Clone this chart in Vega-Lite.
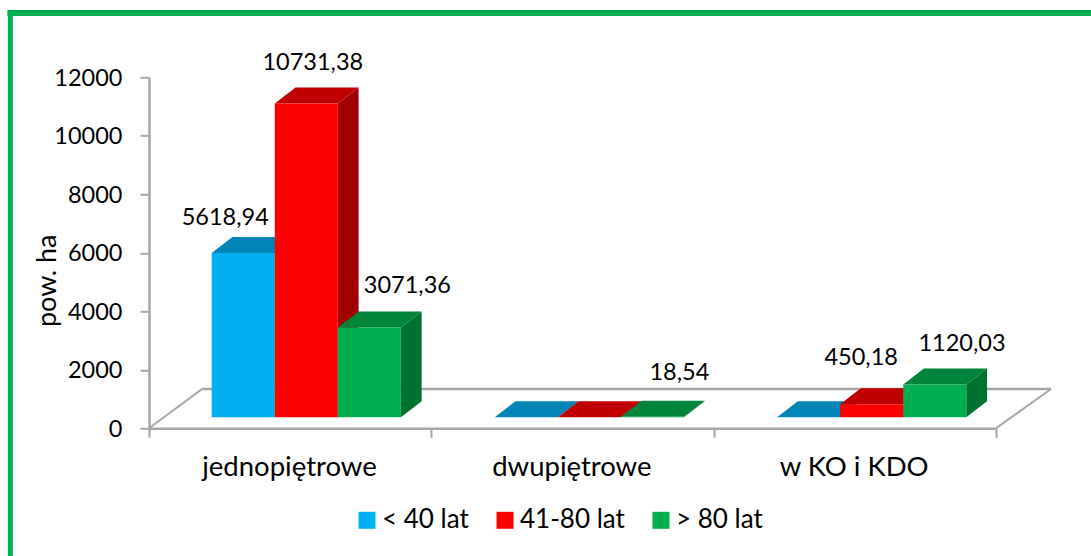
{
"$schema":"https://vega.github.io/schema/vega-lite/v6.json",
"width":847,"height":351,
"autosize":{"type":"none"},
"padding":{"left":149,"top":77.3,"right":95,"bottom":127.7},
"background":"white",
"config":{"view":{"stroke":null},"font":"Lato"},
"data":{"values":[
{"kategoria":"jednopiętrowe","grupa":"< 40 lat","wartosc":5618.94},
{"kategoria":"jednopiętrowe","grupa":"41-80 lat","wartosc":10731.38},
{"kategoria":"jednopiętrowe","grupa":"> 80 lat","wartosc":3071.36},
{"kategoria":"dwupiętrowe","grupa":"< 40 lat","wartosc":0},
{"kategoria":"dwupiętrowe","grupa":"41-80 lat","wartosc":0},
{"kategoria":"dwupiętrowe","grupa":"> 80 lat","wartosc":18.54},
{"kategoria":"w KO i KDO","grupa":"< 40 lat","wartosc":0},
{"kategoria":"w KO i KDO","grupa":"41-80 lat","wartosc":450.18},
{"kategoria":"w KO i KDO","grupa":"> 80 lat","wartosc":1120.03}
]},
"transform":[
{"calculate":"indexof(['jednopiętrowe','dwupiętrowe','w KO i KDO'],datum.kategoria)","as":"k"},
{"calculate":"indexof(['< 40 lat','41-80 lat','> 80 lat'],datum.grupa)","as":"g"},
{"calculate":"datum.k+(datum.k==0?0.222:0.2245)+datum.g*0.2234","as":"x0"},
{"calculate":"datum.x0+0.2234","as":"x1"},
{"calculate":"(datum.x0+datum.x1)/2","as":"xm"},
{"calculate":"376","as":"podstawa"},
{"calculate":"datum.wartosc+376","as":"szczyt"},
{"calculate":"replace(format(datum.wartosc,'.2f'),'.',',')","as":"etykieta"}
],
"resolve":{"scale":{"color":"independent"}},
"layer":[
{"data":{"values":[{}]},"transform":[],"mark":{"type":"rule","color":"#A6A6A6","strokeWidth":2.5},
 "encoding":{"x":{"datum":0.188,"type":"quantitative","scale":{"domain":[0,3],"nice":false}},"x2":{"datum":3.195},
 "y":{"datum":1344,"type":"quantitative","scale":{"domain":[0,12000],"nice":false}}}},
{"data":{"values":[{}]},"transform":[],"mark":{"type":"rule","color":"#A6A6A6","strokeWidth":2},
 "encoding":{"x":{"datum":0,"type":"quantitative","scale":{"domain":[0,3],"nice":false}},"x2":{"datum":0.188},
 "y":{"datum":0,"type":"quantitative","scale":{"domain":[0,12000],"nice":false}},"y2":{"datum":1344}}},
{"data":{"values":[{}]},"transform":[],"mark":{"type":"rule","color":"#A6A6A6","strokeWidth":2},
 "encoding":{"x":{"datum":3,"type":"quantitative","scale":{"domain":[0,3],"nice":false}},"x2":{"datum":3.195},
 "y":{"datum":0,"type":"quantitative","scale":{"domain":[0,12000],"nice":false}},"y2":{"datum":1344}}},
{"transform":[{"calculate":"[0,1]","as":"p"},{"flatten":["p"]},
  {"calculate":"datum.x1+datum.p*0.0735","as":"sx"},
  {"calculate":"datum.szczyt+datum.p*547","as":"sy"},
  {"calculate":"datum.podstawa+datum.p*547","as":"sy2"}],
 "mark":{"type":"area","orient":"vertical"},
 "encoding":{"x":{"field":"sx","type":"quantitative","scale":{"domain":[0,3],"nice":false}},
  "y":{"field":"sy","type":"quantitative","stack":null,"scale":{"domain":[0,12000],"nice":false}},
  "y2":{"field":"sy2"},
  "detail":{"field":"k"},
  "color":{"field":"grupa","type":"nominal","scale":{"domain":["< 40 lat","41-80 lat","> 80 lat"],"range":["#006F94","#A00000","#00722F"]},"legend":null}}},
{"transform":[{"calculate":"[0,1,2,3]","as":"p"},{"flatten":["p"]},
  {"calculate":"[datum.x0,datum.x0+0.0735,datum.x1,datum.x1+0.0735][datum.p]","as":"sx"},
  {"calculate":"datum.szczyt+(datum.p==0?0:547)","as":"sy"},
  {"calculate":"datum.szczyt+(datum.p==3?547:0)","as":"sy2"}],
 "mark":{"type":"area","orient":"vertical"},
 "encoding":{"x":{"field":"sx","type":"quantitative","scale":{"domain":[0,3],"nice":false}},
  "y":{"field":"sy","type":"quantitative","stack":null,"scale":{"domain":[0,12000],"nice":false}},
  "y2":{"field":"sy2"},
  "detail":{"field":"k"},
  "color":{"field":"grupa","type":"nominal","scale":{"domain":["< 40 lat","41-80 lat","> 80 lat"],"range":["#0086B6","#C00000","#00853B"]},"legend":null}}},
{"mark":{"type":"rect"},
 "encoding":{"x":{"field":"x0","type":"quantitative","scale":{"domain":[0,3],"nice":false},
   "axis":{"values":[0,1,2,3],"title":null,"grid":false,"labelOffset":140,"labelExpr":"datum.value==0?'jednopiętrowe':datum.value==1?'dwupiętrowe':datum.value==2?'w KO i KDO':''","labelFont":"Lato","labelFontSize":27.5,"labelColor":"#000000","labelPadding":16,"labelFlush":false,"labelOverlap":false,"labelAngle":0,"domainColor":"#A6A6A6","domainWidth":2.5,"tickColor":"#A6A6A6","tickWidth":2,"tickSize":9}},
  "x2":{"field":"x1"},
  "y":{"field":"szczyt","type":"quantitative","scale":{"domain":[0,12000],"nice":false},
   "axis":{"values":[0,2000,4000,6000,8000,10000,12000],"format":"d","title":"pow. ha","grid":false,"labelFont":"Lato","labelFontSize":23.5,"labelColor":"#000000","labelPadding":18,"labelOffset":1,"domainColor":"#A6A6A6","domainWidth":2.5,"tickColor":"#A6A6A6","tickWidth":2,"tickSize":9,"titleFont":"Lato","titleFontSize":27,"titleFontWeight":"normal","titleColor":"#000000","titleX":-102,"titleY":203,"titleAngle":270,"titleAlign":"center","titleBaseline":"middle"}},
  "y2":{"field":"podstawa"},
  "color":{"field":"grupa","type":"nominal","scale":{"domain":["< 40 lat","41-80 lat","> 80 lat"],"range":["#00B0F0","#FF0000","#00B050"]},
   "legend":{"orient":"none","legendX":205,"legendY":430,"direction":"horizontal","columns":3,"title":null,"symbolType":"square","symbolSize":289,"symbolStrokeWidth":0,"labelFont":"Lato","labelFontSize":26,"labelColor":"#000000","labelOffset":2,"columnPadding":23,"symbolOpacity":1}}}},
{"transform":[{"filter":"datum.wartosc==5618.94"}],"mark":{"type":"text","font":"Lato","fontSize":23.5,"color":"#000000","dx":-18,"dy":-35,"baseline":"middle"},
 "encoding":{"x":{"field":"xm","type":"quantitative","scale":{"domain":[0,3],"nice":false}},"y":{"field":"szczyt","type":"quantitative","scale":{"domain":[0,12000],"nice":false}},"text":{"field":"etykieta"}}},
{"transform":[{"filter":"datum.wartosc==10731.38"}],"mark":{"type":"text","font":"Lato","fontSize":23.5,"color":"#000000","dx":6.5,"dy":-40,"baseline":"middle"},
 "encoding":{"x":{"field":"xm","type":"quantitative","scale":{"domain":[0,3],"nice":false}},"y":{"field":"szczyt","type":"quantitative","scale":{"domain":[0,12000],"nice":false}},"text":{"field":"etykieta"}}},
{"transform":[{"filter":"datum.wartosc==3071.36"}],"mark":{"type":"text","font":"Lato","fontSize":23.5,"color":"#000000","dx":38,"dy":-41,"baseline":"middle"},
 "encoding":{"x":{"field":"xm","type":"quantitative","scale":{"domain":[0,3],"nice":false}},"y":{"field":"szczyt","type":"quantitative","scale":{"domain":[0,12000],"nice":false}},"text":{"field":"etykieta"}}},
{"transform":[{"filter":"datum.wartosc==18.54"}],"mark":{"type":"text","font":"Lato","fontSize":23.5,"color":"#000000","dx":27,"dy":-43.5,"baseline":"middle"},
 "encoding":{"x":{"field":"xm","type":"quantitative","scale":{"domain":[0,3],"nice":false}},"y":{"field":"szczyt","type":"quantitative","scale":{"domain":[0,12000],"nice":false}},"text":{"field":"etykieta"}}},
{"transform":[{"filter":"datum.wartosc==450.18"}],"mark":{"type":"text","font":"Lato","fontSize":23.5,"color":"#000000","dx":-10.5,"dy":-46,"baseline":"middle"},
 "encoding":{"x":{"field":"xm","type":"quantitative","scale":{"domain":[0,3],"nice":false}},"y":{"field":"szczyt","type":"quantitative","scale":{"domain":[0,12000],"nice":false}},"text":{"field":"etykieta"}}},
{"transform":[{"filter":"datum.wartosc==1120.03"}],"mark":{"type":"text","font":"Lato","fontSize":23.5,"color":"#000000","dx":27.3,"dy":-41,"baseline":"middle"},
 "encoding":{"x":{"field":"xm","type":"quantitative","scale":{"domain":[0,3],"nice":false}},"y":{"field":"szczyt","type":"quantitative","scale":{"domain":[0,12000],"nice":false}},"text":{"field":"etykieta"}}},
{"data":{"values":[{}]},"transform":[],"mark":{"type":"rule","color":"#00B050","strokeWidth":6,"strokeCap":"square"},
 "encoding":{"x":{"datum":-0.491,"type":"quantitative","scale":{"domain":[0,3],"nice":false}},"x2":{"datum":3.4},
 "y":{"datum":14198,"type":"quantitative","scale":{"domain":[0,12000],"nice":false}}}},
{"data":{"values":[{}]},"transform":[],"mark":{"type":"rule","color":"#00B050","strokeWidth":5,"strokeCap":"square"},
 "encoding":{"x":{"datum":-0.491,"type":"quantitative","scale":{"domain":[0,3],"nice":false}},
 "y":{"datum":14198,"type":"quantitative","scale":{"domain":[0,12000],"nice":false}},"y2":{"datum":-4500}}}
]
}
